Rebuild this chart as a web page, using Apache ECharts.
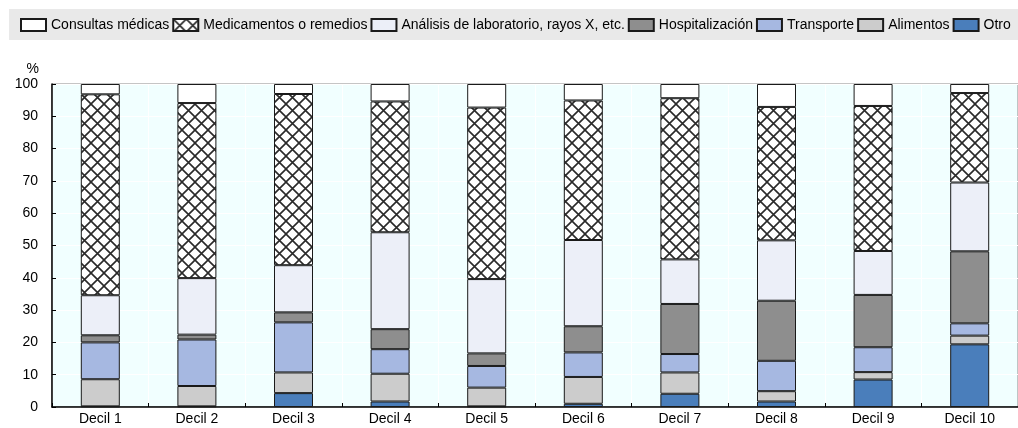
<!DOCTYPE html>
<html>
<head>
<meta charset="utf-8">
<script src="https://cdn.jsdelivr.net/npm/echarts@6/dist/echarts.min.js"></script>
<style>
  html, body { margin: 0; padding: 0; background: #fff; }
  #chart { width: 1018px; height: 428px; }
</style>
</head>
<body>
<div id="chart"></div>
<script>
// Household health spending structure by income decile (% of total)
const categories = ['Decil 1', 'Decil 2', 'Decil 3', 'Decil 4', 'Decil 5',
                    'Decil 6', 'Decil 7', 'Decil 8', 'Decil 9', 'Decil 10'];

const otro            = [0.2, 0.2, 4.3, 1.7, 0.2, 1.0, 4.1, 1.7, 8.5, 19.4];
const alimentos       = [8.4, 6.3, 6.4, 8.6, 5.8, 8.3, 6.6, 3.2, 2.3, 2.7];
const transporte      = [11.4, 14.4, 15.5, 7.6, 6.7, 7.6, 5.7, 9.4, 7.7, 3.8];
const hospitalizacion = [2.2, 1.5, 3.1, 6.2, 3.9, 8.1, 15.5, 18.6, 16.2, 22.3];
const analisis        = [12.4, 17.5, 14.6, 30.0, 23.0, 26.7, 13.8, 18.7, 13.6, 21.3];
const medicamentos    = [62.2, 54.2, 53.0, 40.5, 53.1, 43.2, 49.9, 41.3, 44.9, 27.7];
const consultas       = [3.2, 5.9, 3.1, 5.4, 7.3, 5.1, 4.4, 7.1, 6.8, 2.8];

const yTicks = [0, 10, 20, 30, 40, 50, 60, 70, 80, 90, 100];

// Cross-hatch tile used for the "Medicamentos" segments
function hatchTile() {
  const p = 13;
  const c = document.createElement('canvas');
  c.width = p; c.height = p;
  const g = c.getContext('2d');
  g.fillStyle = '#ffffff';
  g.fillRect(0, 0, p, p);
  g.strokeStyle = '#2a2a2a';
  g.lineWidth = 1.6;
  for (let k = -1; k <= 1; k++) {
    g.beginPath();
    g.moveTo(-2 + k * p, -2); g.lineTo(p + 2 + k * p, p + 2);
    g.moveTo(-2 + k * p, p + 2); g.lineTo(p + 2 + k * p, -2);
    g.stroke();
  }
  return c;
}

const border = { borderColor: '#1a1a1a', borderWidth: 1 };

function seg(name, data, color) {
  return {
    name: name,
    type: 'bar',
    stack: 'total',
    barWidth: 39,
    data: data,
    itemStyle: Object.assign({ color: color }, border),
    emphasis: { disabled: true }
  };
}

const chart = echarts.init(document.getElementById('chart'), null, { renderer: 'canvas' });

chart.setOption({
  animation: false,
  textStyle: { fontFamily: 'Liberation Sans, Arial, sans-serif', color: '#000' },
  graphic: [{
    type: 'rect',
    z: -1,
    shape: { x: 9, y: 9, width: 1009, height: 31 },
    style: { fill: '#e9e9e9' }
  }],
  legend: {
    top: 18,
    left: 20,
    width: 1060,
    padding: 0,
    itemWidth: 25,
    itemHeight: 12,
    itemGap: 3,
    icon: 'rect',
    textStyle: { fontSize: 14, color: '#000' },
    data: ['Consultas médicas', 'Medicamentos o remedios',
           'Análisis de laboratorio, rayos X, etc.', 'Hospitalización',
           'Transporte', 'Alimentos', 'Otro'],
    selectedMode: false
  },
  grid: {
    left: 52,
    top: 84,
    width: 978,
    height: 323,
    show: true,
    backgroundColor: '#f1ffff',
    borderColor: '#8a8a8a',
    borderWidth: 1
  },
  xAxis: {
    type: 'category',
    data: categories,
    axisLine: { lineStyle: { color: '#000', width: 1.5 } },
    axisTick: { show: true, inside: true, length: 4, lineStyle: { color: '#000' } },
    axisLabel: { fontSize: 14, color: '#000', margin: 5 },
    splitLine: { show: true, lineStyle: { color: '#ffffff', width: 1 } }
  },
  yAxis: {
    type: 'value',
    min: yTicks[0],
    max: yTicks[yTicks.length - 1],
    interval: yTicks[1] - yTicks[0],
    name: '%',
    nameLocation: 'end',
    nameGap: 8,
    nameTextStyle: { fontSize: 14, color: '#000', align: 'right', padding: [0, 13, 0, 0] },
    axisLine: { show: true, lineStyle: { color: '#000', width: 1.5 } },
    axisTick: { show: true, inside: true, length: 4, lineStyle: { color: '#000' } },
    axisLabel: { fontSize: 14, color: '#000', margin: 14 },
    splitLine: { show: true, lineStyle: { color: '#ffffff', width: 1 } }
  },
  series: [
    seg('Otro', otro, '#4a7ebb'),
    seg('Alimentos', alimentos, '#cccccc'),
    seg('Transporte', transporte, '#a6b8e1'),
    seg('Hospitalización', hospitalizacion, '#8e8e8e'),
    seg('Análisis de laboratorio, rayos X, etc.', analisis, '#eceff8'),
    seg('Medicamentos o remedios', medicamentos, { image: hatchTile(), repeat: 'repeat' }),
    seg('Consultas médicas', consultas, '#ffffff')
  ]
});
</script>
</body>
</html>
